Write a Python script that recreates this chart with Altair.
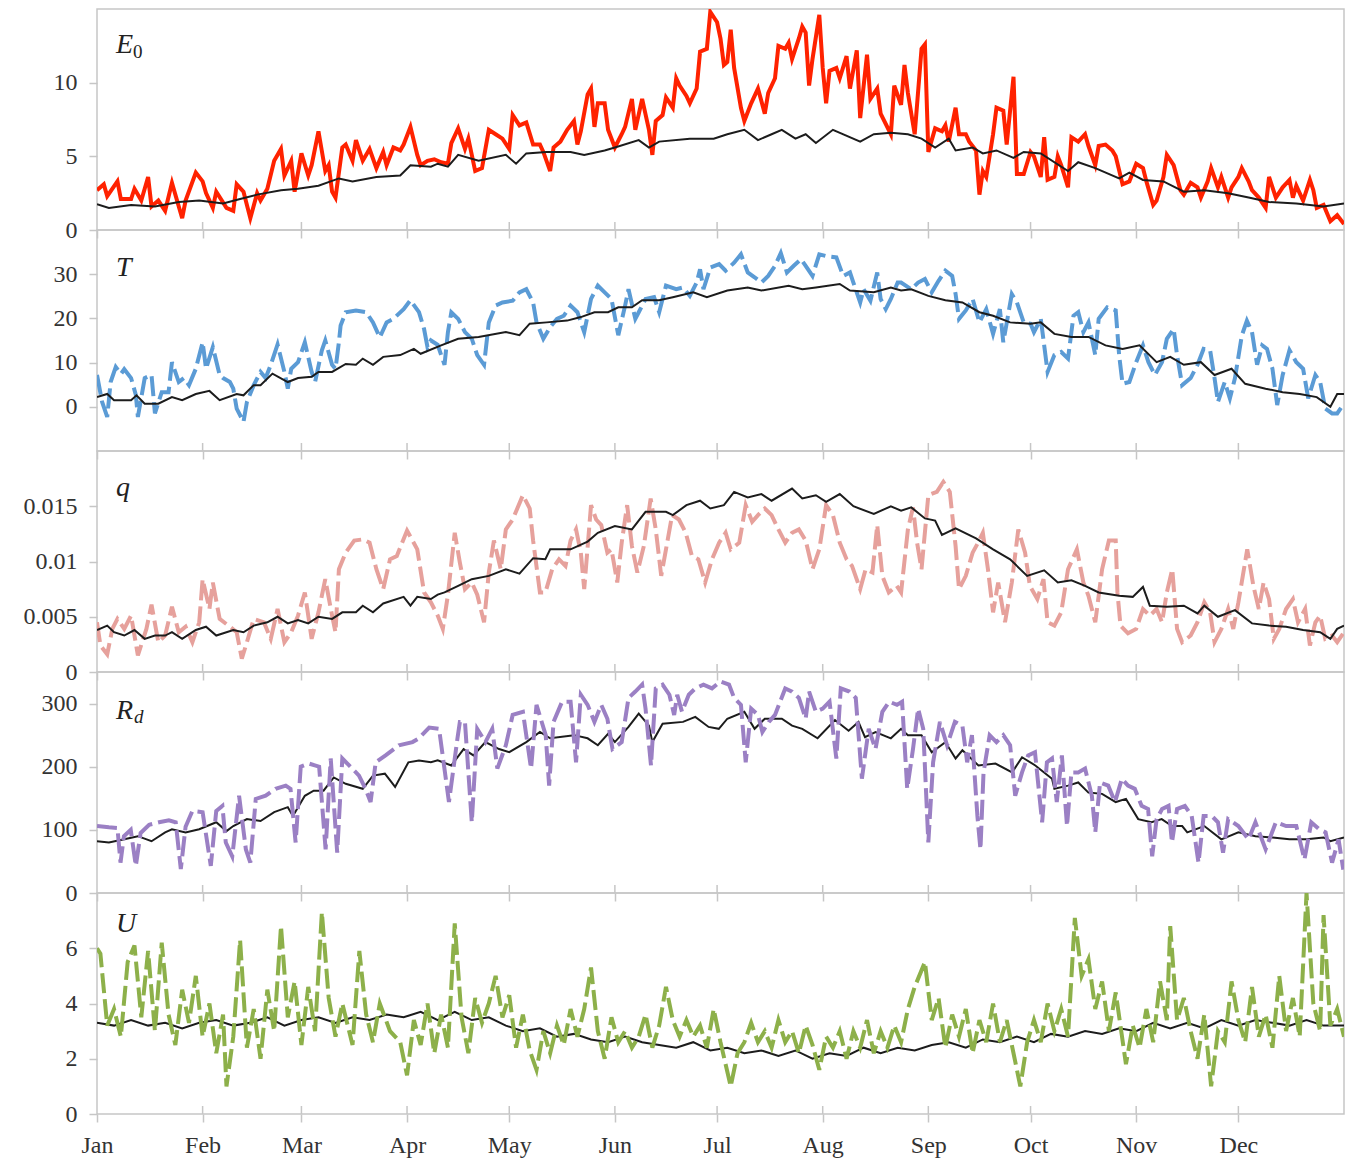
import altair as alt
import pandas as pd

# ---------------- data (day of year, value) ----------------
MONTH_DAYS = [0, 31, 60, 91, 121, 152, 182, 213, 244, 274, 305, 335]
MONTH_NAMES = ["Jan", "Feb", "Mar", "Apr", "May", "Jun", "Jul", "Aug", "Sep", "Oct", "Nov", "Dec"]

E0_obs = [(0,2.7),(2,3.1),(3,2.3),(6,3.3),(7,2.1),(10,2.1),(11,2.8),(13,2.0),(15,3.6),(16,1.6),(18,2.0),(20,1.3),
          (22,3.2),(25,0.8),(26,2.0),(29,3.9),(31,3.3),(32,2.5),(34,1.5),(35,2.6),(38,1.5),(40,1.3),(41,3.1),(43,2.6),
          (45,0.8),(47,2.5),(48,2.0),(50,2.8),(52,4.7),(54,5.5),(55,3.7),(57,4.7),(58,2.6),(60,5.2),(62,3.7),(63,4.4),
          (65,6.7),(67,4.0),(68,4.4),(69,2.6),(70,2.2),(72,5.6),(73,5.8),(75,4.7),(76,6.1),(78,4.7),(80,5.5),(82,4.2),
          (84,5.3),(85,4.4),(87,5.6),(89,5.4),(90,5.8),(92,7.0),(94,5.1),(95,4.4),(97,4.7),(99,4.8),(101,4.6),(103,4.5),
          (104,5.9),(106,6.9),(108,5.5),(109,6.2),(111,4.0),(113,4.2),(115,6.8),(117,6.5),(119,6.2),(121,5.5),(122,7.8),
          (124,7.1),(126,7.3),(128,5.8),(130,5.8),(131,5.3),(133,4.0),(134,5.6),(136,6.0),(138,6.8),(140,7.4),(141,5.8),
          (142,6.7),(144,9.2),(145,9.6),(146,7.0),(147,8.6),(149,8.6),(150,6.8),(152,5.6),(154,6.5),(155,7.0),(157,8.9),
          (158,6.8),(160,8.9),(162,6.8),(163,5.1),(164,7.4),(166,7.8),(167,9.0),(169,8.3),(170,10.3),(171,9.8),(173,9.1),
          (174,8.6),(176,9.6),(177,12.1),(179,12.3),(180,14.8),(182,14.1),(183,13.0),(184,11.2),(185,11.4),(186,13.6),
          (187,11.0),(189,8.3),(190,7.4),(192,8.6),(194,9.6),(196,7.9),(197,9.3),(199,10.3),(200,12.5),(202,12.3),
          (203,12.7),(204,11.6),(206,13.0),(207,13.8),(208,13.4),(209,9.8),(210,11.6),(212,14.6),(213,11.0),(214,8.6),
          (215,10.8),(217,11.0),(218,10.3),(220,11.8),(221,9.6),(223,12.2),(224,7.6),(226,11.9),(227,8.9),(229,9.6),
          (230,7.9),(233,6.5),(234,9.8),(236,8.5),(237,11.2),(238,9.3),(240,6.5),(242,12.3),(243,12.6),(244,5.3),
          (246,6.9),(248,6.7),(249,7.1),(250,6.0),(252,8.3),(253,6.5),(255,6.5),(256,6.0),(258,5.4),(259,2.4),(260,4.0),
          (261,3.6),(263,6.5),(264,8.3),(266,8.1),(267,5.8),(269,10.4),(270,3.8),(272,3.8),(274,5.3),(275,5.0),(277,3.6),
          (278,6.3),(279,3.4),(281,3.6),(282,5.0),(283,4.4),(285,2.9),(286,6.3),(288,6.0),(290,6.5),(291,5.7),(293,4.4),
          (294,5.7),(296,5.8),(298,5.4),(299,5.0),(301,3.1),(303,3.3),(305,4.5),(307,4.2),(308,3.3),(310,1.7),(311,2.0),
          (313,3.6),(314,5.1),(316,4.4),(318,2.7),(319,2.4),(321,3.2),(323,2.9),(324,2.2),(326,3.3),(327,4.2),(329,2.9),
          (330,3.6),(332,2.2),(333,2.9),(335,3.6),(336,4.2),(338,3.3),(339,2.7),(341,2.2),(343,1.5),(344,3.6),(346,2.2),
          (348,2.9),(350,3.4),(351,2.2),(352,3.0),(354,2.0),(356,3.4),(357,2.7),(358,1.5),(360,1.7),(362,0.6),(364,1.0),
          (366,0.4)]
E0_clim = [(0,1.75),(3.5,1.5),(10,1.7),(17,1.6),(24,1.9),(30,2.0),(37,1.8),(42,2.1),(47,2.4),(54,2.7),(59,2.8),
           (65,3.0),(71,3.5),(75,3.3),(82,3.6),(89,3.7),(92,4.4),(98,4.3),(100,4.5),(103,4.3),(106,5.1),(112,4.7),
           (120,5.1),(123,4.5),(126,5.2),(132,5.3),(139,5.3),(143,5.1),(149,5.4),(152,5.6),(159,6.1),(162,5.6),(165,6.0),
           (174,6.2),(181,6.2),(185,6.5),(190,6.8),(194,6.1),(198,6.5),(201,6.8),(205,6.2),(208,6.5),(211,5.9),(216,6.8),
           (224,6.0),(228,6.5),(233,6.6),(238,6.5),(242,6.2),(246,5.6),(250,6.2),(252,5.4),(257,5.6),(260,5.2),(264,5.4),
           (269,4.9),(272,5.3),(277,5.2),(285,4.0),(288,4.6),(293,4.2),(300,3.5),(303,3.9),(307,3.4),(313,3.3),(319,2.6),
           (325,2.7),(332,2.5),(338,2.2),(344,1.9),(352,1.8),(360,1.6),(366,1.8)]

T_obs = [(0,7.2),(1.5,1.1),(3,-2.3),(4,5.6),(5.5,9.0),(7,7.4),(8,8.5),(10,6.5),(11.4,2.7),(12,-2.3),(14,6.5),(16,7.2),
         (17,-1.5),(19,3.3),(21,3.3),(22,10.1),(24,5.6),(25.5,6.5),(27,4.9),(29,8.6),(31,14.6),(32,8.6),(34,13.5),(36,7.2),
         (37,6.5),(39,5.6),(40,4.1),(41,-0.4),(43,-3.4),(44,1.1),(46,4.9),(48,7.9),(49.5,6.5),(51,9.5),(53,14.1),(55,7.9),
         (56,4.1),(57,8.6),(59,10.1),(61,14.6),(63,7.9),(64,5.6),(66,12.8),(67,15.0),(69,9.5),(70,8.6),(71,14.6),(71.5,18.4),
         (73,21.4),(76,21.8),(79,21.4),(81,19.1),(83,15.7),(85,19.1),(87,19.9),(90,22.1),(92,24.1),(94.5,21.4),(96,17.6),
         (97,13.5),(98,15.0),(100,14.0),(102,9.5),(103,16.9),(104,21.4),(106,19.9),(108,16.9),(110,15.4),(111.6,11.7),
         (113.6,9.5),(115,19.1),(117,22.9),(119,23.6),(122,24.0),(124,25.9),(126,26.6),(128,23.6),(129,19.1),(131,15.4),
         (133,18.0),(135,19.9),(137,20.6),(139,22.9),(141,21.4),(143,16.9),(145,24.4),(147,27.4),(149,25.9),(151,24.4),
         (153,16.2),(155,22.9),(156,26.6),(158,19.9),(159,21.4),(161,24.4),(163.5,24.8),(165,21.4),(167,27.4),(170,26.6),
         (172,27.0),(174,25.1),(176,28.1),(177,31.1),(178,26.6),(180,31.5),(182.6,32.3),(184.5,30.8),(187,32.6),(189,34.5),
         (191,30.4),(193,29.3),(195,28.1),(197,29.6),(199,31.9),(200.7,34.8),(202.5,30.4),(204.5,31.9),(206.6,33.4),
         (208,31.9),(210,29.6),(212,34.5),(214,34.1),(217,33.8),(219,29.6),(221,30.4),(222,28.1),(224,23.6),(225,26.6),
         (227,24.0),(229,30.4),(230,24.4),(231.5,22.1),(233,24.4),(235,28.1),(236,28.1),(239,26.6),(241,28.1),(243,28.9),
         (245,25.9),(247,28.5),(249,30.8),(251,29.6),(252,25.5),(253,19.9),(255,21.8),(257,24.4),(259,19.1),(261,22.1),
         (263,16.5),(265,22.1),(266,14.6),(268.5,25.5),(270,23.6),(272,19.1),(274,18.8),(275,16.9),(277,19.9),(279,7.9),
         (281,11.7),(283,12.4),(285,10.9),(286.6,20.6),(288,21.4),(289.5,16.9),(291,19.1),(293,11.7),(294,19.9),(296.5,22.5),
         (299,21.8),(300,11.7),(301,5.2),(303,5.6),(305,10.1),(307,13.9),(308.6,10.1),(310.5,7.2),(312.6,10.1),(314,15.4),
         (316,17.6),(317,11.7),(318.5,4.9),(321,6.5),(323,9.5),(324.8,13.1),(326.7,12.8),(328,6.5),(329,1.1),(331,5.6),
         (332.5,1.9),(334,6.5),(336,16.1),(337.5,19.5),(339,16.9),(340.5,9.5),(342,13.9),(343.4,13.1),(345,8.6),(346.4,0.4),
         (348,7.2),(350,12.8),(352,10.1),(354,8.6),(355.5,1.9),(357.6,7.2),(359,5.6),(360.5,-0.4),(362.5,-1.5),(364,-1.5),
         (366,0.7)]
T_clim = [(0,2.2),(3,2.9),(5,1.5),(10,1.5),(11.6,2.6),(14,0.7),(18,0.7),(22,2.2),(25,1.5),(29,2.9),(33,3.6),(36,1.5),
          (41,2.9),(43,2.6),(46,4.9),(48,4.9),(51.5,7.5),(56,5.6),(59,6.5),(63,6.8),(65,7.9),(69,7.9),(73,9.7),(76,9.5),
          (78,10.9),(81,9.5),(84,11.3),(89,11.7),(93,13.1),(95,12.0),(101,13.9),(106,15.4),(112,15.8),(120,16.9),(124,16.2),
          (127,18.8),(132,19.1),(138,19.5),(142,20.3),(146,21.4),(150,21.4),(153,22.5),(157,22.5),(160,24.1),(165,24.1),
          (169,24.8),(175,25.9),(179,24.8),(185,26.3),(191,27.0),(195,26.3),(203,27.4),(207,26.6),(211,27.0),(218,27.8),
          (221,26.3),(228,25.9),(233,27.0),(236,26.3),(239,26.6),(244,25.1),(249,24.1),(254,23.6),(259,21.4),(263,20.6),
          (268,19.1),(274,18.8),(277,19.1),(281,16.5),(286,15.8),(291,15.8),(296,13.9),(301,13.1),(306,13.9),(311,10.1),
          (315,11.3),(319,9.5),(324,10.1),(328,7.2),(333,8.6),(337,5.2),(343,4.1),(348,3.3),(353,2.9),(358,2.2),(362,0.0),
          (364,2.9),(366,2.9)]

q_obs = [(0,0.0045),(1,0.0024),(3,0.0016),(4.5,0.0039),(6,0.0048),(8,0.0039),(10,0.0051),(12,0.0015),(14.5,0.0039),
         (16,0.0061),(18,0.0027),(20,0.0033),(22,0.0059),(24,0.0036),(26,0.0041),(28,0.0027),(30,0.0045),(31,0.0084),
         (33,0.0057),(34,0.0081),(36,0.0048),(39,0.0041),(41,0.0036),(42.5,0.0012),(44,0.0027),(46,0.0048),(49,0.0045),
         (51,0.0030),(53,0.0057),(55,0.0027),(57,0.0036),(59,0.0051),(61,0.0072),(63,0.0030),(65,0.0054),(67,0.0084),
         (69,0.0051),(70,0.0036),(71,0.0093),(73,0.0108),(75.5,0.0119),(78,0.0120),(80,0.0117),(82,0.0093),(84,0.0075),
         (86,0.0102),(88,0.0105),(91,0.0128),(94,0.0111),(96,0.0072),(98,0.0063),(100,0.0051),(101.5,0.0039),(103,0.0070),
         (105,0.0126),(106.5,0.0099),(108,0.0075),(110,0.0081),(111.6,0.0070),(113.6,0.0045),(115,0.0090),(116.5,0.0119),
         (118.5,0.0093),(120,0.0129),(122,0.0138),(125,0.0160),(127,0.0148),(128,0.0119),(130,0.0072),(131.6,0.0072),
         (133.6,0.0093),(135.6,0.0102),(137.5,0.0096),(139,0.0119),(140.6,0.0129),(142,0.0108),(143,0.0075),(145,0.0151),
         (146.5,0.0138),(148,0.0133),(149.8,0.0108),(151,0.0111),(152.7,0.0081),(154,0.0117),(155.6,0.0151),(157,0.0114),
         (158.6,0.0090),(160.5,0.0114),(162.5,0.0157),(164,0.0129),(165.6,0.0087),(167,0.0111),(168.8,0.0142),(170.8,0.0138),
         (172.8,0.0126),(174.6,0.0105),(176.5,0.0102),(178.5,0.0081),(180.5,0.0102),(182.6,0.0117),(184.5,0.0126),
         (186,0.0111),(188.5,0.0117),(190.4,0.0151),(192.3,0.0136),(194,0.0142),(196,0.0148),(198,0.0142),(200,0.0129),
         (202,0.0117),(204,0.0126),(206,0.0129),(208,0.0119),(210,0.0093),(212,0.0111),(214,0.0151),(216,0.0142),
         (218,0.0117),(220,0.0102),(221.6,0.0096),(224,0.0075),(225.6,0.0093),(227.6,0.0090),(229,0.0133),(230.5,0.0087),
         (232.4,0.0072),(234.7,0.0078),(236,0.0072),(238,0.0129),(239.5,0.0149),(240.7,0.0117),(242,0.0093),(244,0.0160),
         (246.5,0.0163),(248.4,0.0172),(250.3,0.0163),(252,0.0114),(253,0.0075),(255,0.0087),(257,0.0108),(258.6,0.0117),
         (260,0.0126),(261.5,0.0093),(263,0.0054),(264.5,0.0081),(266.5,0.0045),(268.5,0.0081),(270.4,0.0129),(272.4,0.0108),
         (273.8,0.0078),(276,0.0066),(277.8,0.0084),(279,0.0045),(281,0.0042),(283,0.0054),(285,0.0093),(287.6,0.0111),
         (289.5,0.0081),(291,0.0069),(293,0.0045),(295,0.0093),(297,0.0119),(299,0.0119),(299.5,0.0072),(300.4,0.0042),
         (302.6,0.0035),(305,0.0039),(307,0.0057),(309,0.0051),(311,0.0057),(312.6,0.0045),(314,0.0072),(315.6,0.0093),
         (317,0.0039),(318.5,0.0027),(321,0.0033),(323,0.0045),(325,0.0063),(326.7,0.0054),(328,0.0027),(330,0.0039),
         (332,0.0057),(333.5,0.0039),(335,0.0063),(337.6,0.0111),(339.4,0.0078),(341,0.0057),(342.4,0.0081),(344,0.0066),
         (345.4,0.0030),(347,0.0039),(349,0.0057),(351,0.0066),(352.5,0.0045),(354.6,0.0057),(356,0.0024),(357.6,0.0045),
         (359,0.0051),(360.5,0.0030),(362.5,0.0033),(364,0.0027),(366,0.0036)]
q_clim = [(0,0.0038),(3,0.0042),(5,0.0036),(8,0.0033),(11,0.0038),(14,0.0030),(17,0.0033),(20,0.0033),(22,0.0036),
          (25,0.0030),(29,0.0038),(32,0.0041),(35,0.0033),(40,0.0038),(43,0.0036),(46,0.0042),(50,0.0045),(53,0.0050),
          (56,0.0044),(59,0.0047),(62,0.0044),(65,0.0050),(69,0.0048),(72,0.0054),(76,0.0054),(78,0.0060),(81,0.0054),
          (84,0.0062),(90,0.0068),(92,0.0060),(94,0.0068),(98,0.0066),(100,0.0070),(102,0.0072),(106,0.0078),(110,0.0084),
          (115,0.0087),(120,0.0093),(124,0.0089),(128,0.0103),(131.6,0.0102),(133,0.0111),(139,0.0111),(144,0.0118),
          (147,0.0126),(152,0.0132),(157,0.0129),(161,0.0145),(167,0.0145),(169,0.0142),(173,0.0151),(177,0.0155),
          (180,0.0148),(184,0.0151),(187,0.0163),(191,0.0158),(195,0.0161),(198,0.0155),(204,0.0166),(207,0.0157),
          (211,0.0160),(214,0.0154),(218,0.0161),(222,0.0150),(228,0.0143),(233,0.0150),(236,0.0146),(239,0.0149),
          (243,0.0139),(246,0.0137),(248,0.0124),(252,0.0130),(258,0.0121),(263,0.0111),(268,0.0102),(273,0.0087),
          (278,0.0092),(282,0.0081),(286,0.0083),(290,0.0078),(294,0.0072),(300,0.0069),(304,0.0068),(307,0.0077),
          (309,0.0060),(314,0.0059),(319,0.0060),(323,0.0053),(325,0.0060),(329,0.0050),(334,0.0056),(339,0.0044),
          (344,0.0042),(349,0.0041),(354,0.0038),(359,0.0036),(362,0.0030),(364,0.0039),(366,0.0042)]

Rd_obs = [(0,106),(3.5,104),(6,103),(6.9,48),(7.9,90),(9.9,100),(11.4,43),(12.8,95),(15.3,108),(18.2,112),(21.1,115),
          (23.1,112),(24.6,38),(26,105),(28,130),(31,128),(33.4,43),(35,130),(36.8,138),(37.8,80),(39.7,58),(41.7,154),
          (43.7,69),(45,48),(46.6,149),(49.5,154),(52.4,165),(55.4,170),(56.8,165),(58.3,80),(59.8,200),(62.2,205),
          (65.2,200),(67.1,69),(68.6,213),(70.5,64),(72,213),(74,202),(76.9,186),(78.8,165),(80.3,144),(81.8,207),
          (84.7,218),(88.6,234),(92.6,239),(94.5,245),(97.5,262),(100.4,260),(103.3,144),(105.8,245),(106.5,271),
          (108,271),(110,112),(111.6,260),(114,239),(116,260),(117.5,197),(120,234),(122,282),(125,287),(127.4,197),
          (129,298),(131.7,250),(132.7,170),(134,271),(136.5,303),(139,303),(140.6,207),(142,314),(144,298),(146,271),
          (148,298),(149.8,276),(151.3,228),(154,239),(156,309),(158,319),(160,330),(161,292),(162.6,202),(164,324),
          (166,330),(168,314),(169.4,282),(170.3,314),(171.7,287),(173.7,314),(175.6,324),(178,330),(180.5,324),(183,335),
          (185.5,330),(187,309),(189,298),(190.4,207),(192,292),(194,282),(195.3,255),(197.2,271),(199,282),(202,324),
          (204,319),(206,309),(208,276),(209,319),(211,287),(213,292),(215,303),(217,213),(218.3,324),(220.8,319),
          (222.7,309),(224.5,181),(226.5,260),(228.5,228),(230.5,287),(232.5,303),(234.8,298),(236.3,303),(237.8,165),
          (239.5,228),(241,292),(242.5,260),(244,80),(245.4,207),(247.4,271),(249.5,234),(251.8,271),(254,265),(255.4,207),
          (256.8,250),(258.4,122),(259.3,69),(260.2,191),(262,250),(264,239),(266,250),(268,234),(269.5,154),(271.5,191),
          (273.3,218),(275.3,223),(277.4,112),(278.8,207),(280.3,213),(281.7,144),(283.2,218),(284.7,106),(286,191),
          (288,191),(290,197),(292,154),(293,96),(294.4,175),(296.8,170),(298.8,144),(300.8,181),(302.6,170),(304.6,165),
          (306.6,138),(308.5,133),(309.7,58),(311,117),(312.6,133),(314.5,138),(315.5,80),(317,133),(319.3,138),
          (321.3,122),(323.3,48),(324.8,122),(327.2,122),(329,112),(330.5,64),(332,117),(335,106),(338,85),(340,112),
          (343,69),(346,112),(349,106),(352,106),(354.4,53),(356.4,112),(358.7,101),(360.6,96),(362.5,48),(364.4,85),
          (365.8,37)]
Rd_clim = [(0,82),(3.5,80),(8,85),(12,90),(16,82),(20,96),(22,101),(26,96),(30,101),(35,112),(38,98),(40,106),
           (44,117),(48,114),(52,128),(56,136),(57.5,122),(61,154),(63.6,162),(66.5,162),(69.5,183),(73,173),(78,165),
           (81,186),(84.5,189),(87.5,168),(91.4,207),(94.5,210),(98,207),(100,210),(104,202),(107.6,228),(110.5,218),
           (114,239),(118,228),(121,223),(126,239),(130,255),(133,245),(140,250),(144,245),(147,234),(150,252),(152,239),
           (156,263),(159,284),(162,265),(163,239),(166,268),(172,271),(175.6,279),(179.5,263),(182.5,260),(185,276),
           (190,287),(193,260),(196,276),(201,276),(204,265),(207,260),(211.5,245),(216.6,274),(220.6,257),(223.5,271),
           (225.4,247),(228.5,255),(233,245),(236,260),(238,250),(242,250),(245,223),(249,239),(252,213),(254,226),
           (258.7,202),(263.7,205),(268.6,191),(271.5,215),(275.4,202),(280.3,181),(281,165),(285,170),(288,175),
           (291,159),(295,157),(299,144),(302,149),(305.6,117),(309.5,112),(312.5,117),(315.5,106),(318.5,106),(320,96),
           (325,106),(330,85),(335,96),(340,90),(345,88),(350,85),(355,85),(360,88),(362,82),(366,88)]

U_obs = [(0,6.0),(1,5.8),(3,3.2),(5,3.8),(7,2.8),(9,5.5),(11,6.1),(13,3.5),(15,5.9),(17,3.0),(19,6.2),(21,3.6),
         (23,2.5),(25,4.5),(27,3.3),(29,5.0),(31,2.8),(33,4.0),(35,2.2),(37,3.6),(38,1.0),(40,2.8),(42,6.3),(44,2.4),
         (46,3.8),(48,2.0),(50,4.5),(52,3.0),(54,6.8),(56,3.5),(58,4.8),(60,2.5),(62,4.6),(64,3.0),(66,7.3),(68,4.2),
         (70,2.8),(72,4.0),(75,2.5),(77,5.9),(79,3.6),(81,2.6),(83,4.0),(86,3.0),(89,2.6),(91,1.4),(93,3.4),(95,2.5),
         (97,4.0),(99,2.2),(101,3.6),(103,2.4),(105,6.9),(107,3.5),(109,2.2),(111,4.2),(113,3.3),(115,4.0),(117,5.0),
         (119,3.5),(121,4.3),(123,2.4),(125,3.6),(127,2.3),(129,1.6),(131,3.0),(133,2.2),(135,3.2),(137,2.5),(139,3.8),
         (141,2.8),(143,3.8),(145,5.3),(147,3.0),(149,2.0),(151,3.5),(153,2.6),(155,3.0),(157,2.4),(159,2.8),(161,3.6),
         (163,2.4),(165,3.2),(167,4.6),(169,3.4),(171,2.8),(173,3.4),(175,2.8),(177,3.2),(179,2.4),(181,3.8),(183,2.6),
         (186,1.0),(188,2.2),(190,2.6),(192,3.3),(194,2.6),(196,3.0),(198,2.4),(200,3.4),(202,2.6),(204,3.0),(206,2.2),
         (208,3.2),(210,2.5),(212,1.6),(214,2.8),(216,2.4),(218,3.0),(220,2.0),(222,3.0),(224,2.4),(226,3.4),(228,2.2),
         (230,3.0),(232,2.4),(234,3.2),(236,2.6),(238,3.8),(240,4.6),(243,5.5),(245,3.4),(247,4.2),(249,2.4),(251,3.6),
         (253,2.8),(255,3.8),(257,2.2),(259,3.4),(261,2.6),(263,4.0),(265,2.6),(267,3.4),(269,2.2),(271,1.0),(273,2.6),
         (275,3.4),(277,2.6),(279,4.0),(281,3.0),(283,3.8),(285,2.8),(287,7.1),(289,5.0),(291,5.6),(293,3.8),
         (295,4.8),(297,3.0),(299,4.4),(302,1.8),(304,3.2),(306,2.4),(308,3.8),(310,2.6),(312,4.8),(314,3.4),(315,6.8),
         (317,3.4),(319,4.2),(321,3.0),(323,2.0),(325,3.6),(327,1.0),(329,3.0),(331,2.6),(333,4.8),(335,3.4),(337,2.6),
         (339,4.6),(341,2.8),(343,3.6),(345,2.4),(347,5.0),(349,3.0),(351,4.2),(353,2.8),(355,8.0),(357,4.0),(359,3.0),
         (360,7.2),(362,3.2),(364,3.8),(366,2.8)]
U_clim = [(0,3.3),(5,3.2),(10,3.4),(15,3.2),(20,3.3),(25,3.1),(30,3.3),(35,3.4),(40,3.2),(45,3.3),(50,3.5),(55,3.2),
          (60,3.4),(65,3.5),(70,3.3),(75,3.5),(80,3.4),(85,3.6),(90,3.5),(95,3.7),(100,3.4),(105,3.7),(110,3.4),
          (115,3.5),(120,3.2),(125,3.0),(130,3.1),(135,2.8),(140,2.9),(145,2.7),(150,2.6),(155,2.8),(160,2.6),(165,2.5),
          (170,2.4),(175,2.6),(180,2.3),(185,2.4),(190,2.2),(195,2.3),(200,2.1),(205,2.3),(210,2.0),(215,2.2),(220,2.1),
          (225,2.4),(230,2.2),(235,2.4),(240,2.3),(245,2.5),(250,2.6),(255,2.4),(260,2.7),(265,2.6),(270,2.8),(275,2.6),
          (280,2.9),(285,2.8),(290,3.0),(295,2.9),(300,3.1),(305,3.0),(310,3.3),(315,3.1),(320,3.3),(325,3.1),(330,3.4),
          (335,3.2),(340,3.4),(345,3.3),(350,3.2),(355,3.4),(360,3.2),(366,3.2)]

# ---------------- styling ----------------
W, H = 1247, 221
GRAY = "#c6c6c6"
FONT = "Liberation Serif"
DASH = [20, 6]

xscale = alt.Scale(domain=[0, 366], nice=False, zero=False)
month_expr = ("[" + ",".join("'%s'" % m for m in MONTH_NAMES) + "][indexof(["
              + ",".join(str(d) for d in MONTH_DAYS) + "], datum.value)]")


def panel(obs, clim, color, dashed, ydom, yvals, yfmt, label, label_y, sub=None, sub_italic=False,
          sub_x=37, sub_y=50, black_top=True, bottom=False):
    odf = pd.DataFrame(obs, columns=["day", "v"])
    cdf = pd.DataFrame(clim, columns=["day", "v"])
    yscale = alt.Scale(domain=ydom, nice=False, zero=False)
    xaxis = alt.Axis(values=MONTH_DAYS, labels=bottom, labelExpr=month_expr, title=None,
                     tickSize=8, labelPadding=11, labelFlush=False, domain=False, grid=False)
    yaxis = alt.Axis(values=yvals, format=yfmt, title=None, tickSize=8, labelPadding=12,
                     labelFlush=False, domain=False, grid=False)
    X = alt.X("day:Q", scale=xscale, axis=xaxis)
    Y = alt.Y("v:Q", scale=yscale, axis=yaxis)
    lk = dict(color=color, strokeWidth=4, clip=True)
    if dashed:
        lk["strokeDash"] = DASH
    obs_line = alt.Chart(odf).mark_line(**lk).encode(x=X, y=Y)
    clim_line = alt.Chart(cdf).mark_line(color="#1c1c1c", strokeWidth=2, clip=True).encode(x=X, y=Y)
    ticks = alt.Chart(pd.DataFrame({"day": MONTH_DAYS[1:]})).mark_rule(color=GRAY, strokeWidth=1.5).encode(
        x=X, y=alt.value(H - 8), y2=alt.value(H),
    )
    txt = alt.Chart(pd.DataFrame({"t": [label]})).mark_text(
        font=FONT, fontSize=28, fontStyle="italic", align="left", baseline="alphabetic", color="#222222"
    ).encode(x=alt.value(19), y=alt.value(label_y), text="t:N")
    layers = ([obs_line, clim_line] if black_top else [clim_line, obs_line]) + [ticks, txt]
    if sub:
        layers.append(alt.Chart(pd.DataFrame({"t": [sub]})).mark_text(
            font=FONT, fontSize=19, fontStyle="italic" if sub_italic else "normal", align="left",
            baseline="alphabetic", color="#222222"
        ).encode(x=alt.value(sub_x), y=alt.value(sub_y), text="t:N"))
    return alt.layer(*layers).properties(width=W, height=H)


p1 = panel(E0_obs, E0_clim, "#ff2200", False, [0, 15], [0, 5, 10], "d", "E", 44, sub="0", sub_x=36, sub_y=49)
p2 = panel(T_obs, T_clim, "#5b9bd5", True, [-10, 40], [0, 10, 20, 30], "d", "T", 46)
p3 = panel(q_obs, q_clim, "#e6a19c", True, [0, 0.02], [0, 0.005, 0.01, 0.015], "~g", "q", 45)
p4 = panel(Rd_obs, Rd_clim, "#9b80c4", True, [0, 350], [0, 100, 200, 300], "d", "R", 47,
           sub="d", sub_italic=True, sub_x=37, sub_y=51, black_top=False)
p5 = panel(U_obs, U_clim, "#8db04a", True, [0, 8], [0, 2, 4, 6], "d", "U", 39, black_top=False, bottom=True)

chart = alt.vconcat(p1, p2, p3, p4, p5, spacing=0, bounds="flush").properties(
    padding={"left": 22, "top": 8, "right": 10, "bottom": 4}
).configure_view(stroke=GRAY, strokeWidth=1.5).configure_axis(
    labelFont=FONT, labelFontSize=24, labelColor="#333333", tickColor=GRAY, tickWidth=1.5
)

chart.save("out.html", embed_options={"renderer": "svg", "actions": False})
